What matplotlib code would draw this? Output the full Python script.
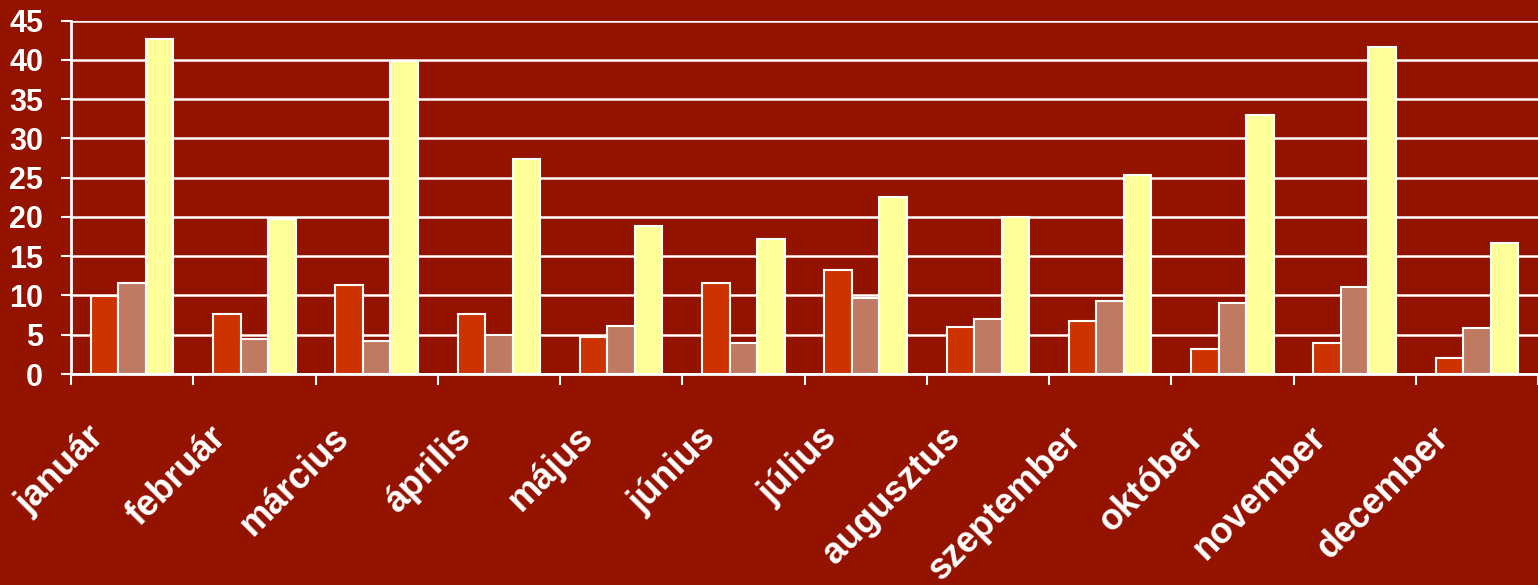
import numpy as np
import matplotlib
matplotlib.use("Agg")
import matplotlib.pyplot as plt
from matplotlib.transforms import ScaledTranslation

months = ["január", "február", "március", "április", "május", "június",
          "július", "augusztus", "szeptember", "október", "november", "december"]
series_a = [9.9, 7.6, 11.3, 7.6, 4.7, 11.6, 13.2, 6.0, 6.8, 3.2, 4.0, 2.0]
series_b = [11.6, 4.5, 4.2, 5.0, 6.1, 4.0, 9.7, 7.0, 9.3, 9.0, 11.1, 5.8]
series_c = [42.7, 19.8, 39.9, 27.4, 18.8, 17.2, 22.6, 20.0, 25.4, 33.0, 41.7, 16.7]
yticks = [0, 5, 10, 15, 20, 25, 30, 35, 40, 45]

bg = "#941200"
colors = ["#CC3300", "#C07A62", "#FFFF99"]

plt.rcParams["font.family"] = ["Liberation Sans", "DejaVu Sans"]

fig = plt.figure(figsize=(15.38, 5.85), dpi=100, facecolor=bg)
ax = fig.add_axes([71 / 1538, 1 - 374 / 585, 1 - 71 / 1538, (374 - 20.7) / 585])
ax.set_facecolor(bg)

x = np.arange(len(months))
w = 0.225
for i, (vals, c) in enumerate(zip([series_a, series_b, series_c], colors)):
    ax.bar(x + (i - 1) * w, vals, w, color=c, edgecolor="white", linewidth=1.5, zorder=3)

ax.set_xlim(-0.5, len(months) - 0.5)
ax.set_ylim(0, 45)
ax.set_yticks(yticks)
ax.yaxis.grid(True, color="white", linewidth=1.8, zorder=1)
ax.set_axisbelow(True)

for s in ["top", "right"]:
    ax.spines[s].set_visible(False)
for s in ["left", "bottom"]:
    ax.spines[s].set_color("white")
    ax.spines[s].set_linewidth(2)
    ax.spines[s].set_zorder(4)

ax.tick_params(axis="y", colors="white", length=7, width=1.5, pad=13,
               labelsize=22)
for lab in ax.get_yticklabels():
    lab.set_fontweight("bold")

# tick marks between months, labels under month centres
ax.set_xticks(np.arange(-0.5, len(months), 1.0), minor=True)
ax.set_xticks(x)
ax.set_xticklabels(months, rotation=45, ha="right", fontsize=26,
                   fontweight="bold", color="white")
ax.tick_params(axis="x", which="major", length=0, pad=33)
ax.tick_params(axis="x", which="minor", colors="white", length=8, width=1.5)
shift = ScaledTranslation(-21 / 100, 0, fig.dpi_scale_trans)
for lab in ax.get_xticklabels():
    lab.set_transform(lab.get_transform() + shift)

fig.savefig("out.png", dpi=100, facecolor=bg)
